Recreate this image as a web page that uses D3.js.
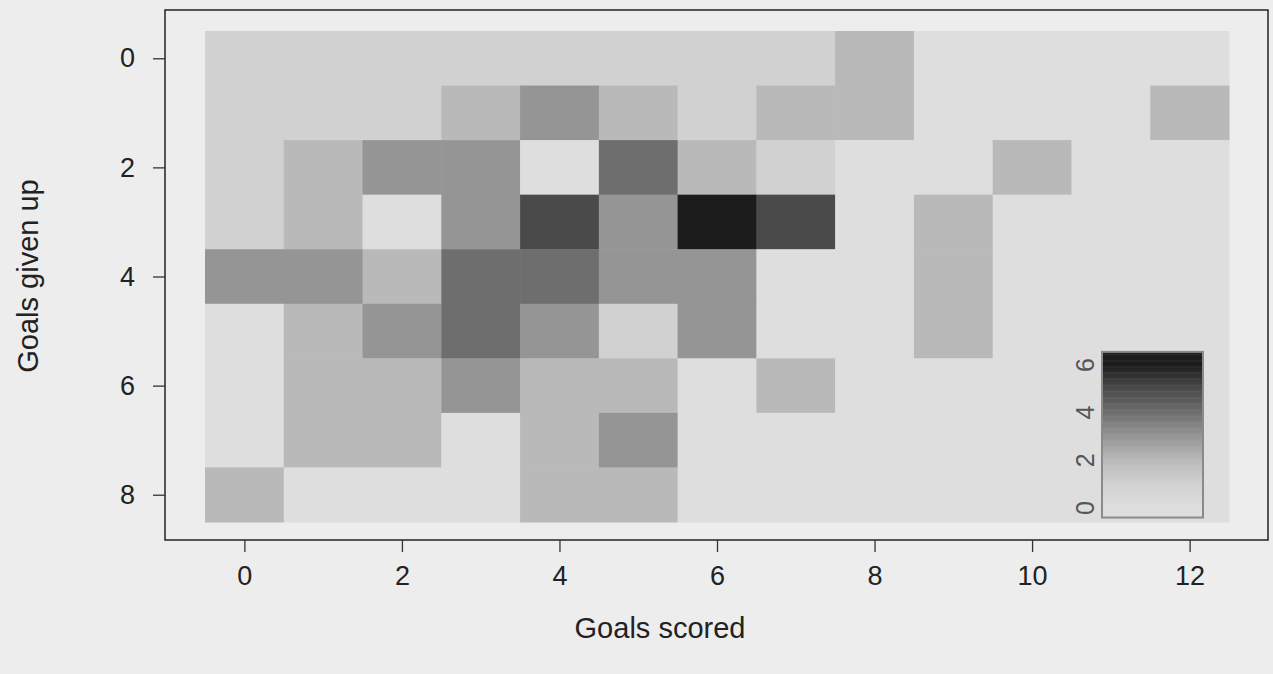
<!DOCTYPE html>
<html>
<head>
<meta charset="utf-8">
<script src="https://cdn.jsdelivr.net/npm/d3@7"></script>
<style>
  html, body { margin: 0; padding: 0; background: #ededed; }
  svg { display: block; font-family: "Liberation Sans", Arial, sans-serif; }
</style>
</head>
<body>
<svg id="chart" width="1273" height="674"></svg>
<script>
// goals scored (columns) and goals given up (rows)
const goalsScored = [0, 1, 2, 3, 4, 5, 6, 7, 8, 9, 10, 11, 12];
const goalsGivenUp = [0, 1, 2, 3, 4, 5, 6, 7, 8];

// number of games, one row per goals given up
const counts = [
    [1, 1, 1, 1, 1, 1, 1, 1, 2, 0, 0, 0, 0],
    [1, 1, 1, 2, 3, 2, 1, 2, 2, 0, 0, 0, 2],
    [1, 2, 3, 3, 0, 4, 2, 1, 0, 0, 2, 0, 0],
    [1, 2, 0, 3, 5, 3, 6, 5, 0, 2, 0, 0, 0],
    [3, 3, 2, 4, 4, 3, 3, 0, 0, 2, 0, 0, 0],
    [0, 2, 3, 4, 3, 1, 3, 0, 0, 2, 0, 0, 0],
    [0, 2, 2, 3, 2, 2, 0, 2, 0, 0, 0, 0, 0],
    [0, 2, 2, 0, 2, 3, 0, 0, 0, 0, 0, 0, 0],
    [2, 0, 0, 0, 2, 2, 0, 0, 0, 0, 0, 0, 0],
];

const xTicks = [0, 2, 4, 6, 8, 10, 12];
const yTicks = [0, 2, 4, 6, 8];
const legendTicks = [0, 2, 4, 6];

const svg = d3.select('#chart');
const frame = { left: 165, top: 10, right: 1268, bottom: 540 };

const x = d3.scaleLinear().domain([-0.5, 12.5]).range([205, 1229]);
const y = d3.scaleLinear().domain([-0.5, 8.5]).range([31, 522]);

const color = d3.scaleLinear()
    .domain([0, 1, 2, 3, 4, 5, 6])
    .range(['#dedede', '#d1d1d1', '#b9b9b9', '#959595', '#6e6e6e', '#4a4a4a', '#1c1c1c'])
    .clamp(true);

// cells
const cells = [];
goalsGivenUp.forEach((g, i) => {
    goalsScored.forEach((s, j) => cells.push({ s, g, n: counts[i][j] }));
});

svg.append('g')
    .selectAll('rect')
    .data(cells)
    .enter()
    .append('rect')
    .attr('x', (d) => x(d.s - 0.5))
    .attr('y', (d) => y(d.g - 0.5))
    .attr('width', x(1) - x(0) + 0.5)
    .attr('height', y(1) - y(0) + 0.5)
    .attr('fill', (d) => color(d.n));

// legend bar
const ly = d3.scaleLinear().domain([0, 6]).range([508, 365]);
const steps = d3.range(-0.4, 6.55, 0.05);
const legend = svg.append('g');
legend.selectAll('rect')
    .data(steps)
    .enter()
    .append('rect')
    .attr('x', 1102)
    .attr('y', (d) => ly(d + 0.05))
    .attr('width', 101)
    .attr('height', ly(0) - ly(0.05) + 0.5)
    .attr('fill', (d) => color(d));
legend.append('rect')
    .attr('x', 1102)
    .attr('y', ly(6.55))
    .attr('width', 101)
    .attr('height', ly(-0.4) - ly(6.55))
    .attr('fill', 'none')
    .attr('stroke', '#8a8a8a')
    .attr('stroke-width', 2);
legend.selectAll('text')
    .data(legendTicks)
    .enter()
    .append('text')
    .attr('transform', (d) => `translate(1094, ${ly(d)}) rotate(-90)`)
    .attr('text-anchor', 'middle')
    .attr('font-size', 25)
    .attr('fill', '#555')
    .text((d) => d);

// frame
svg.append('rect')
    .attr('x', frame.left)
    .attr('y', frame.top)
    .attr('width', frame.right - frame.left)
    .attr('height', frame.bottom - frame.top)
    .attr('fill', 'none')
    .attr('stroke', '#222')
    .attr('stroke-width', 1.5);

// axes
const xAxis = svg.append('g')
    .attr('transform', `translate(0, ${frame.bottom})`)
    .call(d3.axisBottom(x).tickValues(xTicks).tickSize(12).tickPadding(14));
const yAxis = svg.append('g')
    .attr('transform', `translate(${frame.left}, 0)`)
    .call(d3.axisLeft(y).tickValues(yTicks).tickSize(12).tickPadding(18));

[xAxis, yAxis].forEach((a) => {
    a.select('.domain').remove();
    a.selectAll('.tick line').attr('stroke', '#333').attr('stroke-width', 1.3);
    a.selectAll('.tick text').attr('font-size', 27).attr('fill', '#222').attr('font-family', '"Liberation Sans", Arial, sans-serif');
});

svg.append('text')
    .text('Goals scored')
    .attr('x', 660)
    .attr('y', 638)
    .attr('text-anchor', 'middle')
    .attr('font-size', 29)
    .attr('fill', '#222');

svg.append('text')
    .text('Goals given up')
    .attr('transform', 'translate(38, 276) rotate(-90)')
    .attr('text-anchor', 'middle')
    .attr('font-size', 29)
    .attr('fill', '#222');
</script>
</body>
</html>
